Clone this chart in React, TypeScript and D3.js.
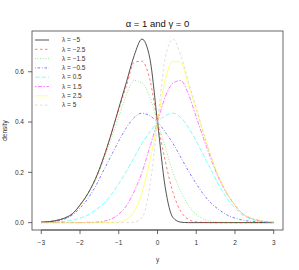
import React from "react";
import * as d3 from "d3";

// grid of y values the densities were read at
const ys = d3.range(31).map((i) => Math.round((-3 + i * 0.2) * 10) / 10);

// densities, one array per lambda
const lamM5 = [0.002, 0.004, 0.009, 0.018, 0.035, 0.07, 0.115, 0.175, 0.255, 0.35, 0.455, 0.56, 0.665, 0.73, 0.655, 0.4, 0.14, 0.02, 0.002, 0, 0, 0, 0, 0, 0, 0, 0, 0, 0, 0, 0];
const lamM25 = [0.002, 0.004, 0.009, 0.018, 0.035, 0.07, 0.115, 0.175, 0.255, 0.35, 0.45, 0.545, 0.638, 0.642, 0.57, 0.4, 0.245, 0.12, 0.045, 0.013, 0.003, 0.001, 0, 0, 0, 0, 0, 0, 0, 0, 0];
const lamM15 = [0.002, 0.004, 0.009, 0.018, 0.035, 0.069, 0.113, 0.17, 0.245, 0.33, 0.42, 0.51, 0.565, 0.555, 0.5, 0.4, 0.3, 0.2, 0.125, 0.068, 0.033, 0.014, 0.005, 0.002, 0.001, 0, 0, 0, 0, 0, 0];
const lamM05 = [0.001, 0.003, 0.006, 0.014, 0.03, 0.058, 0.095, 0.145, 0.205, 0.265, 0.325, 0.378, 0.418, 0.435, 0.425, 0.4, 0.36, 0.315, 0.26, 0.205, 0.155, 0.11, 0.075, 0.05, 0.03, 0.018, 0.01, 0.005, 0.003, 0.001, 0];
const lamP05 = [0, 0.001, 0.003, 0.005, 0.01, 0.018, 0.03, 0.05, 0.075, 0.11, 0.155, 0.205, 0.26, 0.315, 0.36, 0.4, 0.425, 0.435, 0.418, 0.378, 0.325, 0.265, 0.205, 0.145, 0.095, 0.058, 0.03, 0.014, 0.006, 0.003, 0.001];
const lamP15 = [0, 0, 0, 0, 0, 0, 0.001, 0.002, 0.005, 0.014, 0.033, 0.068, 0.125, 0.2, 0.3, 0.4, 0.5, 0.555, 0.565, 0.51, 0.42, 0.33, 0.245, 0.17, 0.113, 0.069, 0.035, 0.018, 0.009, 0.004, 0.002];
const lamP25 = [0, 0, 0, 0, 0, 0, 0, 0, 0, 0.001, 0.003, 0.013, 0.045, 0.12, 0.245, 0.4, 0.57, 0.642, 0.638, 0.545, 0.45, 0.35, 0.255, 0.175, 0.115, 0.07, 0.035, 0.018, 0.009, 0.004, 0.002];
const lamP5 = [0, 0, 0, 0, 0, 0, 0, 0, 0, 0, 0, 0, 0.002, 0.02, 0.14, 0.4, 0.655, 0.73, 0.665, 0.56, 0.455, 0.35, 0.255, 0.175, 0.115, 0.07, 0.035, 0.018, 0.009, 0.004, 0.002];

const labels = ["λ = −5", "λ = −2.5", "λ = −1.5", "λ = −0.5", "λ = 0.5", "λ = 1.5", "λ = 2.5", "λ = 5"];
const xTicks = [-3, -2, -1, 0, 1, 2, 3];
const yTicks = [0, 0.2, 0.4, 0.6];

const allSeries = [lamM5, lamM25, lamM15, lamM05, lamP05, lamP15, lamP25, lamP5];
// R lty 1..6 then recycled
const colors = ["#000000", "#ff0000", "#00cd00", "#0000ff", "#00ffff", "#ff00ff", "#ffff00", "#bebebe"];
const dashes = ["none", "2.5,2.5", "0.8,1.8", "0.8,1.8,2.5,1.8", "4.5,2", "1.5,1.5,4,1.5", "none", "2.5,2.5"];

const W = 299;
const H = 270;
const box = { left: 32, right: 283, top: 31, bottom: 230 };
const font = "'Liberation Sans', Arial, sans-serif";

export default function App() {
  const x = d3.scaleLinear().domain([-3.24, 3.24]).range([box.left, box.right]);
  const y = d3.scaleLinear().domain([-0.0293, 0.762]).range([box.bottom, box.top]);

  const line = d3
    .line<number>()
    .x((_, i) => x(ys[i]))
    .y((d) => y(d))
    .curve(d3.curveMonotoneX);

  const legendX = 35;
  const legendY = 40;
  const legendStep = 9.3;

  return (
    <svg
      width={W}
      height={H}
      style={{ position: "absolute", left: 0, top: 0, background: "#fff" }}
      fontFamily={font}
    >
      <rect x={0} y={0} width={W} height={H} fill="#fff" />
      {/* curves */}
      {allSeries.map((s, k) => (
        <path
          key={k}
          d={line(s) || ""}
          fill="none"
          stroke={colors[k]}
          strokeWidth={0.8}
          strokeOpacity={k === 0 ? 0.85 : 0.65}
          strokeDasharray={dashes[k]}
        />
      ))}

      {/* box */}
      <rect
        x={box.left}
        y={box.top}
        width={box.right - box.left}
        height={box.bottom - box.top}
        fill="none"
        stroke="#444"
        strokeWidth={0.8}
      />

      {/* x axis */}
      <line x1={x(-3)} x2={x(3)} y1={box.bottom} y2={box.bottom} stroke="#444" strokeWidth={0.8} />
      {xTicks.map((t) => (
        <g key={t} transform={`translate(${x(t)},${box.bottom})`}>
          <line y1={0} y2={4} stroke="#444" strokeWidth={0.8} />
          <text y={14.5} textAnchor="middle" fontSize={6.5} fill="#333">
            {t < 0 ? `−${-t}` : t}
          </text>
        </g>
      ))}
      <text x={x(0)} y={262} textAnchor="middle" fontSize={6.5} fill="#333">
        y
      </text>

      {/* y axis */}
      {yTicks.map((t) => (
        <g key={t} transform={`translate(${box.left},${y(t)})`}>
          <line x1={0} x2={-4} stroke="#444" strokeWidth={0.8} />
          <text x={-8} dy="0.35em" textAnchor="end" fontSize={6.5} fill="#333">
            {t.toFixed(1)}
          </text>
        </g>
      ))}
      <text
        transform={`translate(7,${(box.top + box.bottom) / 2}) rotate(-90)`}
        textAnchor="middle"
        fontSize={6.5}
        fill="#333"
      >
        density
      </text>

      {/* title */}
      <text x={(box.left + box.right) / 2} y={27} textAnchor="middle" fontSize={9.5} fill="#111">
        α = 1 and γ = 0
      </text>

      {/* legend */}
      {labels.map((lab, k) => (
        <g key={lab} transform={`translate(${legendX},${legendY + k * legendStep})`}>
          <line
            x1={0}
            x2={14}
            stroke={colors[k]}
            strokeWidth={0.8}
            strokeOpacity={k === 0 ? 0.85 : 0.65}
            strokeDasharray={dashes[k]}
          />
          <text x={27} dy="0.35em" fontSize={6.5} fill="#333">
            {lab}
          </text>
        </g>
      ))}
    </svg>
  );
}
